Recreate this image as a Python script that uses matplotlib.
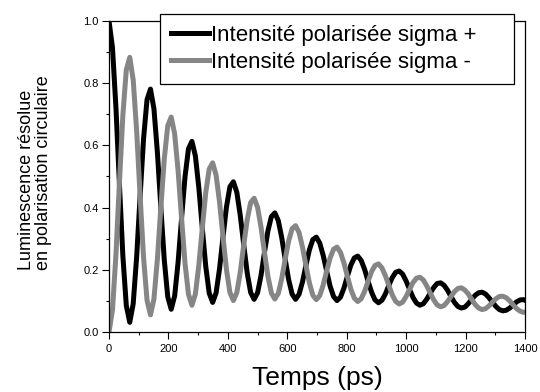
import numpy as np
import matplotlib
matplotlib.use("Agg")
import matplotlib.pyplot as plt

plt.rcParams['font.family'] = ['Liberation Sans', 'DejaVu Sans']

# Données (un point tous les 11.625 ps)
pas_ps = 11.625
sigma_plus = [
    1.000, .914, .722, .478, .246, .085, .031, .091, .242, .437, .622, .747,
    .781, .718, .578, .400, .231, .113, .073, .116, .225, .366, .499, .589,
    .613, .566, .464, .334, .211, .125, .095, .126, .204, .306, .402, .467,
    .483, .449, .374, .280, .190, .127, .105, .126, .182, .256, .325, .371,
    .383, .358, .303, .234, .168, .122, .105, .121, .161, .214, .264, .297,
    .305, .286, .246, .196, .147, .114, .101, .112, .141, .179, .215, .238,
    .244, .230, .201, .163, .128, .103, .094, .102, .122, .150, .175, .192,
    .196, .186, .164, .137, .111, .093, .086, .091, .106, .125, .143, .156,
    .158, .150, .134, .114, .095, .082, .077, .080, .091, .105, .118, .126,
    .128, .122, .110, .096, .082, .072, .068, .070, .077, .087, .097, .103,
    .104, .099,
]
sigma_moins = [
    .000, .071, .248, .478, .696, .843, .883, .810, .646, .437, .239, .102,
    .055, .106, .234, .400, .557, .663, .691, .637, .518, .366, .221, .121,
    .086, .122, .215, .334, .448, .524, .544, .504, .417, .306, .200, .127,
    .101, .127, .193, .280, .361, .416, .430, .401, .337, .256, .179, .125,
    .106, .124, .172, .234, .293, .332, .342, .320, .273, .214, .158, .118,
    .104, .117, .151, .196, .238, .266, .273, .256, .222, .179, .138, .109,
    .098, .107, .131, .163, .194, .214, .219, .206, .181, .150, .119, .098,
    .090, .096, .114, .137, .159, .173, .176, .167, .148, .125, .103, .087,
    .081, .085, .098, .114, .130, .140, .142, .135, .122, .105, .088, .077,
    .072, .075, .084, .096, .107, .114, .115, .110, .100, .087, .075, .067,
    .063, .065,
]
temps = np.arange(len(sigma_plus)) * pas_ps

labels = ['Intensité polarisée sigma +', 'Intensité polarisée sigma -']
x_ticks = [0, 200, 400, 600, 800, 1000, 1200, 1400]
y_ticks = [0.0, 0.2, 0.4, 0.6, 0.8, 1.0]

fig = plt.figure(figsize=(5.4, 3.92), dpi=100)
ax = fig.add_axes([0.2019, 0.1531, 0.7704, 0.7934])

ax.plot(temps, sigma_plus, color='black', lw=3.6, label=labels[0])
ax.plot(temps, sigma_moins, color='#868686', lw=3.6, label=labels[1])

ax.set_xlim(0, 1400)
ax.set_ylim(0, 1.0)
ax.set_xticks(x_ticks)
ax.set_xticks(np.arange(100, 1400, 200), minor=True)
ax.set_yticks(y_ticks)
ax.set_yticks(np.arange(0.1, 1.0, 0.2), minor=True)
ax.set_yticklabels(['%.1f' % v for v in y_ticks])
ax.tick_params(which='major', direction='out', length=5, width=0.8, labelsize=8,
               top=False, right=False)
ax.tick_params(axis='x', which='major', pad=4)
ax.tick_params(axis='y', which='major', pad=2.5)
ax.tick_params(which='minor', direction='out', length=2.5, width=0.8, top=False, right=False)
for s in ax.spines.values():
    s.set_linewidth(0.9)

ax.set_xlabel('Temps (ps)', fontsize=19, labelpad=8)
ax.set_ylabel('Luminescence résolue\nen polarisation circulaire', fontsize=13,
              linespacing=1.0, multialignment='left')
ax.yaxis.set_label_coords(-0.136, 0.513)

leg = ax.legend(loc='upper left', bbox_to_anchor=(0.1226, 0.7935, 0.851, 0.229),
                mode='expand', borderaxespad=0, fontsize=16, handlelength=1.7,
                handletextpad=0.1, borderpad=0.5, labelspacing=0.25,
                fancybox=False, framealpha=1, edgecolor='black')
leg.get_frame().set_linewidth(0.9)
leg.set_zorder(5)

plt.savefig('out.png', dpi=100)
